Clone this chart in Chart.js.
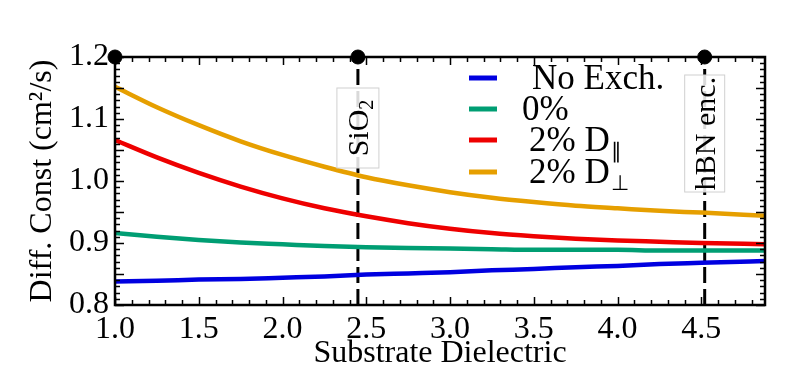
<!DOCTYPE html>
<html>
<head>
<meta charset="utf-8">
<script src="https://cdn.jsdelivr.net/npm/chart.js@4.4.1/dist/chart.umd.min.js"></script>
<style>
  body { margin: 0; background: #fff; }
  #wrap { width: 800px; height: 385px; }
</style>
</head>
<body>
<div id="wrap"><canvas id="myChart"></canvas></div>
<script>
// valores
const eps = [1.0, 1.25, 1.5, 1.75, 2.0, 2.25, 2.5, 2.75, 3.0, 3.25, 3.5, 3.75, 4.0, 4.25, 4.5, 4.88];
const noExch = [0.838, 0.839, 0.841, 0.842, 0.844, 0.846, 0.849, 0.851, 0.853, 0.856, 0.858, 0.861, 0.863, 0.866, 0.868, 0.871];
const zeroPct = [0.916, 0.910, 0.905, 0.901, 0.898, 0.895, 0.893, 0.892, 0.891, 0.890, 0.889, 0.889, 0.889, 0.888, 0.888, 0.888];
const twoPar = [1.066, 1.038, 1.013, 0.991, 0.972, 0.956, 0.943, 0.932, 0.923, 0.916, 0.911, 0.907, 0.904, 0.902, 0.900, 0.898];
const twoPerp = [1.152, 1.119, 1.090, 1.064, 1.042, 1.023, 1.006, 0.993, 0.982, 0.973, 0.966, 0.960, 0.956, 0.952, 0.949, 0.944];

const seriesNames = ['No Exch.', '0%', '2% D', '2% D'];
const seriesSubs = ['', '', '\u2225', '\u22A5'];
const seriesColors = ['#0000e0', '#009e73', '#ee0000', '#e69f00'];

const substrateNames = ['SiO', 'hBN enc.'];
const substrateSubs = ['2', ''];
const substrateEps = [2.45, 4.52];
const markerEps = [1.0, 2.45, 4.52];

const xTicks = [1.0, 1.5, 2.0, 2.5, 3.0, 3.5, 4.0, 4.5];
const yTicks = [0.8, 0.9, 1.0, 1.1, 1.2];

const FONT = "'Liberation Serif', serif";

const toXY = (ys) => ys.map((y, i) => ({ x: eps[i], y: y }));

const datasets = [];
[noExch, zeroPct, twoPar, twoPerp].forEach((serie, i) => {
    datasets.push({
        label: seriesNames[i] + seriesSubs[i],
        data: toXY(serie),
        borderColor: seriesColors[i],
        borderWidth: 4.5,
        pointRadius: 0,
        tension: 0.4,
        cubicInterpolationMode: 'monotone',
        order: 1
    });
});
substrateEps.forEach((e) => {
    datasets.push({
        data: [{ x: e, y: 0.8 }, { x: e, y: 1.2 }],
        borderColor: '#000',
        borderWidth: 3,
        borderDash: [16, 6],
        pointRadius: 0,
        order: 5
    });
});
datasets.push({
    type: 'scatter',
    data: markerEps.map(e => ({ x: e, y: 1.2 })),
    backgroundColor: '#000',
    borderColor: '#000',
    pointRadius: 7,
    clip: false,
    order: 0
});

// caixas de texto dos substratos
const boxes = [
    { top: 88, bottom: 168, w: 42 },
    { top: 75, bottom: 192, w: 40 }
];

const extras = {
    id: 'extras',
    afterDatasetsDraw(chart) {
        const ctx = chart.ctx;
        const xs = chart.scales.x;
        substrateEps.forEach((e, i) => {
            const cx = xs.getPixelForValue(e);
            const b = boxes[i];
            ctx.save();
            ctx.fillStyle = 'rgba(255,255,255,0.85)';
            ctx.strokeStyle = '#d0d0d0';
            ctx.lineWidth = 1;
            ctx.fillRect(cx - b.w / 2, b.top, b.w, b.bottom - b.top);
            ctx.strokeRect(cx - b.w / 2, b.top, b.w, b.bottom - b.top);
            ctx.translate(cx, (b.top + b.bottom) / 2);
            ctx.rotate(-Math.PI / 2);
            ctx.fillStyle = '#000';
            ctx.textBaseline = 'middle';
            ctx.font = '30px ' + FONT;
            const w1 = ctx.measureText(substrateNames[i]).width;
            ctx.font = '20px ' + FONT;
            const w2 = substrateSubs[i] ? ctx.measureText(substrateSubs[i]).width : 0;
            const start = -(w1 + w2) / 2;
            ctx.font = '30px ' + FONT;
            ctx.textAlign = 'left';
            ctx.fillText(substrateNames[i], start, 2);
            if (substrateSubs[i]) {
                ctx.font = '20px ' + FONT;
                ctx.fillText(substrateSubs[i], start + w1, 10);
            }
            ctx.restore();
        });
    },
    afterDraw(chart) {
        const ctx = chart.ctx;
        const a = chart.chartArea;
        const xs = chart.scales.x;
        const ys = chart.scales.y;
        ctx.save();
        ctx.strokeStyle = '#000';
        // ticks para dentro
        ctx.lineWidth = 1.5;
        ctx.beginPath();
        for (let k = 10; k <= 48; k++) {
            const v = k / 10;
            const px = Math.round(xs.getPixelForValue(v)) + 0.5;
            const len = (k % 5 === 0) ? 8 : 5;
            ctx.moveTo(px, a.bottom); ctx.lineTo(px, a.bottom - len);
            ctx.moveTo(px, a.top); ctx.lineTo(px, a.top + len);
        }
        for (let k = 80; k <= 120; k++) {
            const v = k / 100;
            const py = Math.round(ys.getPixelForValue(v)) + 0.5;
            const len = (k % 5 === 0) ? 9 : 5;
            ctx.moveTo(a.left, py); ctx.lineTo(a.left + len, py);
            ctx.moveTo(a.right, py); ctx.lineTo(a.right - len, py);
        }
        ctx.stroke();
        // moldura
        ctx.lineWidth = 2.5;
        ctx.strokeRect(a.left, a.top, a.right - a.left, a.bottom - a.top);
        // legenda
        const rows = [78, 109, 140, 172];
        const textX = [532, 522, 529, 529];
        seriesNames.forEach((nome, i) => {
            ctx.strokeStyle = seriesColors[i];
            ctx.lineWidth = 5;
            ctx.beginPath();
            ctx.moveTo(469, rows[i]);
            ctx.lineTo(497, rows[i]);
            ctx.stroke();
            ctx.fillStyle = '#000';
            ctx.textAlign = 'left';
            ctx.textBaseline = 'middle';
            ctx.font = '35px ' + FONT;
            ctx.fillText(nome, textX[i], rows[i] + 2);
            if (seriesSubs[i]) {
                const w = ctx.measureText(nome).width;
                ctx.font = '21px ' + FONT;
                ctx.fillText(seriesSubs[i], textX[i] + w + 1, rows[i] + 12);
            }
        });
        ctx.restore();
    }
};

const ctx = document.getElementById('myChart');
new Chart(ctx, {
    type: 'line',
    data: { datasets: datasets },
    options: {
        responsive: true,
        maintainAspectRatio: false,
        animation: false,
        layout: { padding: { left: 0, top: 57, right: 35, bottom: 0 } },
        plugins: { legend: { display: false }, tooltip: { enabled: false } },
        scales: {
            x: {
                type: 'linear',
                min: 1.0,
                max: 4.88,
                grid: { display: false, drawTicks: false },
                border: { display: false },
                afterBuildTicks: (s) => { s.ticks = xTicks.map(v => ({ value: v })); },
                afterFit: (s) => { s.height = 80; },
                ticks: {
                    color: '#000',
                    padding: 5,
                    maxRotation: 0,
                    autoSkip: false,
                    font: { family: FONT, size: 32 },
                    callback: (v) => v.toFixed(1)
                },
                title: {
                    display: true,
                    text: 'Substrate Dielectric',
                    color: '#000',
                    font: { family: FONT, size: 32 },
                    padding: { top: 0, bottom: 12 }
                }
            },
            y: {
                min: 0.8,
                max: 1.2,
                grid: { display: false, drawTicks: false },
                border: { display: false },
                afterBuildTicks: (s) => { s.ticks = yTicks.map(v => ({ value: v })); },
                afterFit: (s) => { s.width = 115; },
                ticks: {
                    color: '#000',
                    padding: 6,
                    font: { family: FONT, size: 32 },
                    callback: (v) => v.toFixed(1)
                },
                title: {
                    display: true,
                    text: 'Diff. Const (cm\u00B2/s)',
                    color: '#000',
                    font: { family: FONT, size: 32 },
                    padding: { top: 23, bottom: 0 }
                }
            }
        }
    },
    plugins: [extras]
});
</script>
</body>
</html>
